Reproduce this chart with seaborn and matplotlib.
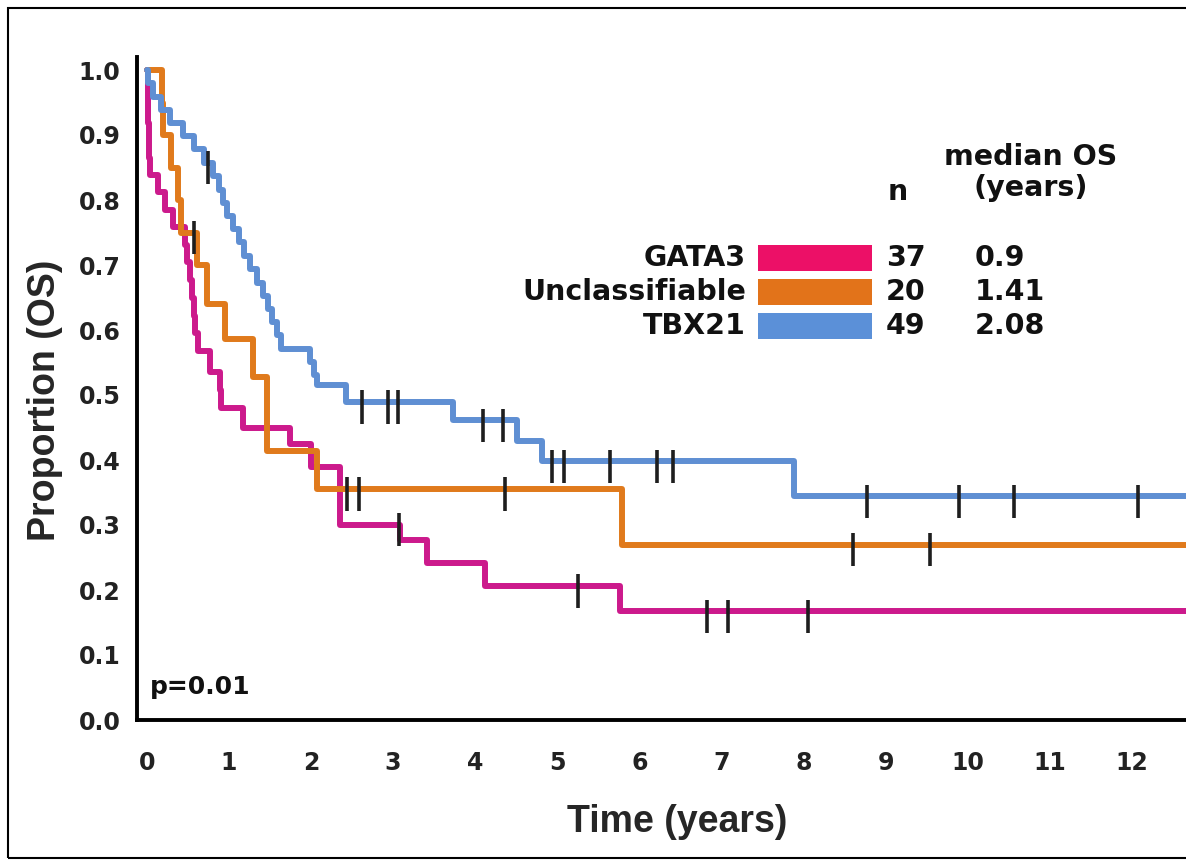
import numpy as np
import pandas as pd
import matplotlib
matplotlib.use("Agg")
import matplotlib.pyplot as plt
import seaborn as sns
from matplotlib.path import Path
from matplotlib.patches import Rectangle
from matplotlib.ticker import MultipleLocator, FormatStrFormatter

# ---------------- data ----------------
groups = ["GATA3", "Unclassifiable", "TBX21"]
n_patients = ["37", "20", "49"]
median_os = ["0.9", "1.41", "2.08"]
line_colors = ["#cc1a8c", "#e07a1c", "#5f8fd3"]
swatch_colors = ["#ec1067", "#e2731a", "#5b90d8"]

gata3_times = [0.01, 0.015, 0.02, 0.025, 0.03, 0.04, 0.13, 0.22, 0.32, 0.46, 0.49, 0.52,
               0.55, 0.57, 0.59, 0.62, 0.77, 0.89, 0.90, 1.17, 1.74, 2.00, 2.35, 2.35,
               2.35, 3.09, 3.41, 4.12, 5.77]
gata3_surv = [0.973, 0.946, 0.919, 0.892, 0.865, 0.839, 0.812, 0.785, 0.758, 0.731, 0.704,
              0.677, 0.650, 0.622, 0.595, 0.567, 0.536, 0.508, 0.480, 0.450, 0.425, 0.390,
              0.360, 0.330, 0.300, 0.277, 0.242, 0.206, 0.167]
gata3_censor = [3.07, 5.25, 6.82, 7.08, 8.05]

uncl_times = [0.18, 0.20, 0.30, 0.38, 0.42, 0.61, 0.73, 0.95, 1.29, 1.46, 1.46, 2.07, 5.79]
uncl_surv = [0.95, 0.90, 0.85, 0.80, 0.75, 0.70, 0.64, 0.586, 0.527, 0.47, 0.414, 0.355, 0.27]
uncl_censor = [0.58, 2.44, 2.59, 4.36, 8.60, 9.54]

tbx21_times = [0.02, 0.08, 0.17, 0.28, 0.44, 0.58, 0.70, 0.80, 0.88, 0.93, 0.98, 1.05, 1.12,
               1.18, 1.26, 1.34, 1.42, 1.48, 1.53, 1.58, 1.64, 1.99, 2.04, 2.07, 2.43, 3.73,
               4.51, 4.82, 7.89]
tbx21_surv = [0.98, 0.959, 0.939, 0.918, 0.898, 0.878, 0.857, 0.837, 0.816, 0.796, 0.775,
              0.755, 0.735, 0.714, 0.694, 0.673, 0.653, 0.633, 0.612, 0.592, 0.571, 0.551,
              0.531, 0.515, 0.489, 0.461, 0.430, 0.398, 0.344]
tbx21_censor = [0.75, 2.62, 2.94, 3.06, 4.09, 4.34, 4.93, 5.08, 5.64, 6.21, 6.41, 8.77,
                9.89, 10.56, 12.07]

follow_up_end = 12.8
x_ticks = list(range(0, 13))
y_ticks = [0.0, 0.1, 0.2, 0.3, 0.4, 0.5, 0.6, 0.7, 0.8, 0.9, 1.0]

# ---------------- build tables ----------------
series = {
    "GATA3": (gata3_times, gata3_surv, gata3_censor),
    "Unclassifiable": (uncl_times, uncl_surv, uncl_censor),
    "TBX21": (tbx21_times, tbx21_surv, tbx21_censor),
}
curve_rows, cens_rows = [], []
for g in groups:
    t, s, c = series[g]
    tt = [0.0] + list(t) + [follow_up_end]
    ss = [1.0] + list(s) + [s[-1]]
    for a, b in zip(tt, ss):
        curve_rows.append((g, a, b))
    t_arr = np.array([0.0] + list(t))
    s_arr = np.array([1.0] + list(s))
    for ct in c:
        idx = np.searchsorted(t_arr, ct, side="right") - 1
        cens_rows.append((g, ct, s_arr[idx]))
curves = pd.DataFrame(curve_rows, columns=["group", "time", "surv"])
cens = pd.DataFrame(cens_rows, columns=["group", "time", "surv"])

# ---------------- figure ----------------
sns.set_theme(style="white")
plt.rcParams["font.family"] = ["DejaVu Sans"]

W, H = 1186, 866
fig = plt.figure(figsize=(W / 100, H / 100), dpi=100)
ax = fig.add_axes([137 / W, 1 - 720 / H, (W - 137) / W, (720 - 57) / H])

palette = dict(zip(groups, line_colors))
sns.lineplot(data=curves, x="time", y="surv", hue="group", hue_order=groups,
             palette=palette, estimator=None, sort=False, drawstyle="steps-post",
             linewidth=4.3, legend=False, ax=ax)

tick_marker = Path([(0, 0.55), (0, -1.0)], [Path.MOVETO, Path.LINETO])
sns.scatterplot(data=cens, x="time", y="surv", marker=tick_marker, s=950,
                facecolor="none", edgecolor="#1e1e1e", linewidth=2.6,
                legend=False, ax=ax, zorder=5)

ax.set_xlim(-0.12, 12.66)
ax.set_ylim(0, 1.02)
ax.set_xticks(x_ticks)
ax.set_yticks(y_ticks)
ax.yaxis.set_major_formatter(FormatStrFormatter("%.1f"))
ax.xaxis.set_minor_locator(MultipleLocator(0.25))
ax.yaxis.set_minor_locator(MultipleLocator(0.02))
for s in ["top", "right"]:
    ax.spines[s].set_visible(False)
for s in ["left", "bottom"]:
    ax.spines[s].set_color("black")
    ax.spines[s].set_linewidth(2.8)

ax.tick_params(axis="both", which="both", direction="out", color="#555555")
ax.tick_params(axis="x", which="major", length=7, width=1.2, pad=15, labelsize=17)
ax.tick_params(axis="x", which="minor", length=7, width=1.0)
ax.tick_params(axis="y", which="major", length=7, width=1.2, pad=5, labelsize=17)
ax.tick_params(axis="y", which="minor", length=4, width=1.0)
for lab in ax.get_xticklabels() + ax.get_yticklabels():
    lab.set_fontweight("bold")
    lab.set_color("#222222")

ax.set_xlabel("Time (years)", fontsize=27, fontweight="bold", family="Liberation Sans")
ax.set_ylabel("Proportion (OS)", fontsize=27, fontweight="bold", family="Liberation Sans")
ax.xaxis.set_label_coords((677 - 137) / (W - 137), (720 - 804) / (720 - 57))
ax.yaxis.set_label_coords((63 - 137) / (W - 137), (720 - 400) / (720 - 57))

ax.text(0.012, 0.05, "p=0.01", transform=ax.transAxes, fontsize=18,
        fontweight="bold", color="#111111", ha="left", va="center")

# ---------------- custom legend table ----------------
def fx(px):
    return px / W

def fy(py):
    return 1 - py / H

leg_fs = 20.5
fig.text(fx(1031), fy(157), "median OS", fontsize=leg_fs, fontweight="bold",
         ha="center", va="center", color="#111111")
fig.text(fx(1031), fy(188), "(years)", fontsize=leg_fs, fontweight="bold",
         ha="center", va="center", color="#111111")
fig.text(fx(898), fy(192), "n", fontsize=leg_fs, fontweight="bold",
         ha="center", va="center", color="#111111")
row_y = [258, 292, 326]
for g, n, m, col, ry in zip(groups, n_patients, median_os, swatch_colors, row_y):
    fig.text(fx(746), fy(ry), g, fontsize=leg_fs, fontweight="bold",
             ha="right", va="center", color="#111111")
    fig.add_artist(Rectangle((fx(758), fy(ry + 13)), fx(872) - fx(758), fy(ry - 13) - fy(ry + 13),
                             transform=fig.transFigure, facecolor=col, edgecolor="none"))
    fig.text(fx(886), fy(ry), n, fontsize=leg_fs, fontweight="bold",
             ha="left", va="center", color="#111111")
    fig.text(fx(975), fy(ry), m, fontsize=leg_fs, fontweight="bold",
             ha="left", va="center", color="#111111")

# outer frame
fig.add_artist(Rectangle((8 / W, 1 - 858 / H), 1.2, (858 - 8) / H, transform=fig.transFigure,
                         fill=False, edgecolor="black", linewidth=1.5, clip_on=False))

fig.savefig("out.png", dpi=100)
